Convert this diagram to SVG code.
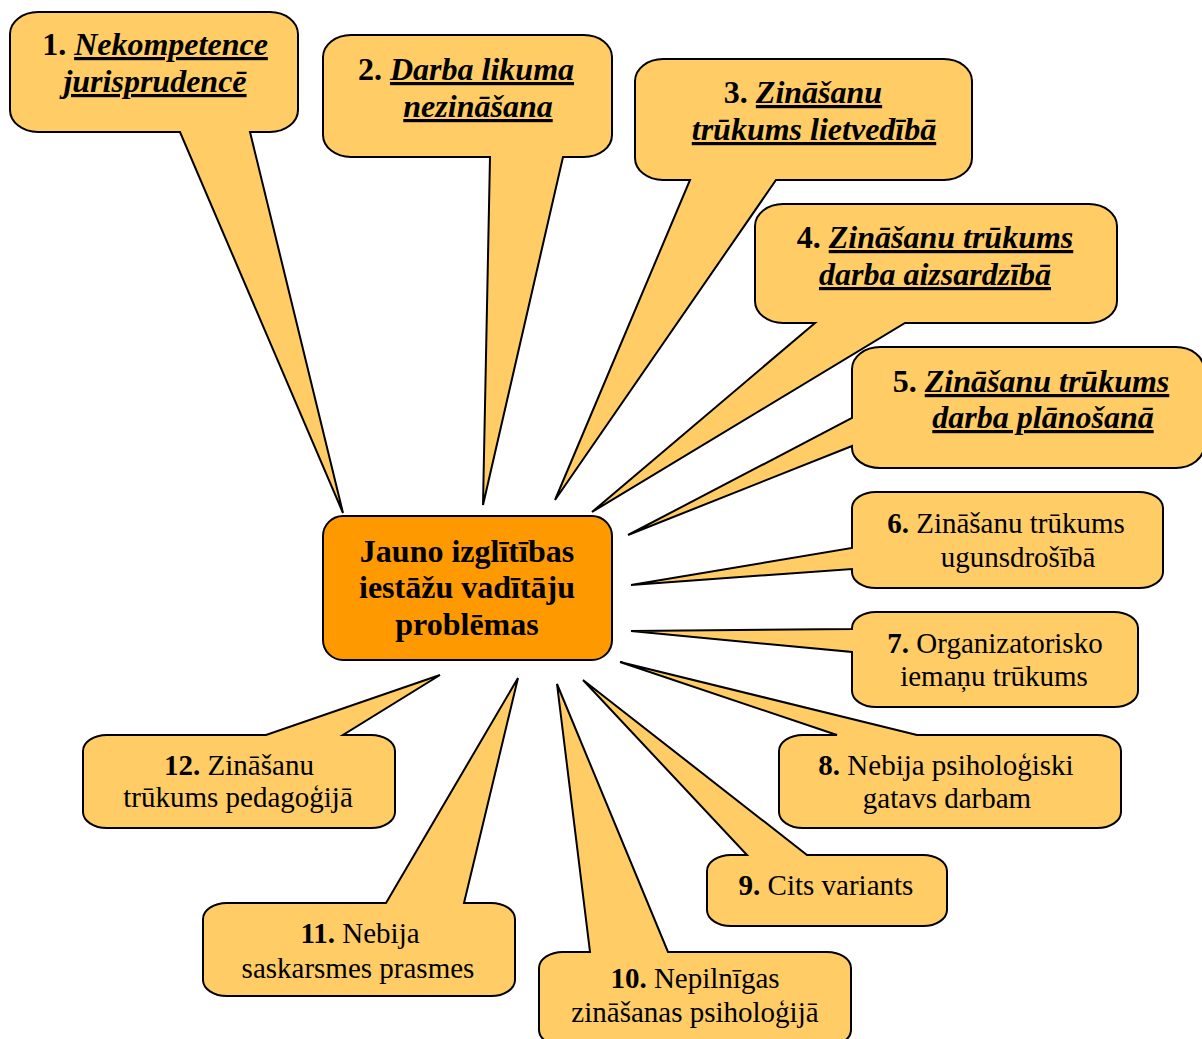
<svg xmlns="http://www.w3.org/2000/svg" width="1202" height="1039" viewBox="0 0 1202 1039">
<style>
.c{fill:#FFCC66;stroke:#000;stroke-width:2;stroke-linejoin:miter}
.m{fill:#FF9900;stroke:#000;stroke-width:2}
text{font-family:"Liberation Serif","Times New Roman",serif;fill:#000;text-anchor:middle}
.bi{font-size:32px;font-weight:bold}
.it{font-style:italic;text-decoration:underline}
.p{font-size:29px}
.b{font-weight:bold}
.ctr{font-size:32px;font-weight:bold}
</style>
<rect width="1202" height="1039" fill="#fff"/>
<g id="callout-shapes">
<g id="n1"><path class="c" d="M39,12 H270 A28 22 0 0 1 298,34 V110 A28 22 0 0 1 270,132 H250 L343,513 L180,132 H38 A28 22 0 0 1 10,110 V34 A28 22 0 0 1 38,12 Z"/>
<text class="bi" x="155" y="55">1. <tspan class="it">Nekompetence</tspan></text>
<text class="bi" x="155" y="92"><tspan class="it">jurisprudencē</tspan></text></g>
<g id="n2"><path class="c" d="M351,35 H584 A28 22 0 0 1 612,57 V135 A28 22 0 0 1 584,157 H563 L483,505 L490,157 H351 A28 22 0 0 1 323,135 V57 A28 22 0 0 1 351,35 Z"/>
<text class="bi" x="466" y="80">2. <tspan class="it">Darba likuma</tspan></text>
<text class="bi" x="478" y="117"><tspan class="it">nezināšana</tspan></text></g>
<g id="n3"><path class="c" d="M663,59 H944 A28 22 0 0 1 972,81 V158 A28 22 0 0 1 944,180 H776 L555,500 L690,180 H663 A28 22 0 0 1 635,158 V81 A28 22 0 0 1 663,59 Z"/>
<text class="bi" x="803" y="103">3. <tspan class="it">Zināšanu</tspan></text>
<text class="bi" x="814" y="140"><tspan class="it">trūkums lietvedībā</tspan></text></g>
<g id="n4"><path class="c" d="M783,204 H1089 A28 22 0 0 1 1117,226 V301 A28 22 0 0 1 1089,323 H905 L592,512 L815,323 H783 A28 22 0 0 1 755,301 V226 A28 22 0 0 1 783,204 Z"/>
<text class="bi" x="935" y="248">4. <tspan class="it">Zināšanu trūkums</tspan></text>
<text class="bi" x="935" y="285"><tspan class="it">darba aizsardzībā</tspan></text></g>
<g id="n5"><path class="c" d="M880,347 H1176 A28 22 0 0 1 1204,369 V446 A28 22 0 0 1 1176,468 H880 A28 20 0 0 1 852,448 V446 L628,535 L852,418 V369 A28 22 0 0 1 880,347 Z"/>
<text class="bi" x="1031" y="392">5. <tspan class="it">Zināšanu trūkums</tspan></text>
<text class="bi" x="1043" y="428"><tspan class="it">darba plānošanā</tspan></text></g>
<g id="n6"><path class="c" d="M876,492 H1139 A24 16 0 0 1 1163,508 V572 A24 16 0 0 1 1139,588 H876 A24 16 0 0 1 852,572 V569 L631,585 L852,548 V508 A24 16 0 0 1 876,492 Z"/>
<text class="p" x="1006" y="533"><tspan class="b">6.</tspan> Zināšanu trūkums</text>
<text class="p" x="1018" y="567">ugunsdrošībā</text></g>
<g id="n7"><path class="c" d="M876,612 H1114 A24 16 0 0 1 1138,628 V691 A24 16 0 0 1 1114,707 H876 A24 16 0 0 1 852,691 V652 L631,631 L852,629 V628 A24 16 0 0 1 876,612 Z"/>
<text class="p" x="995" y="653"><tspan class="b">7.</tspan> Organizatorisko</text>
<text class="p" x="994" y="686">iemaņu trūkums</text></g>
<g id="n8"><path class="c" d="M803,735 H837 L620,662 L917,735 H1097 A24 16 0 0 1 1121,751 V812 A24 16 0 0 1 1097,828 H803 A24 16 0 0 1 779,812 V751 A24 16 0 0 1 803,735 Z"/>
<text class="p" x="946" y="775"><tspan class="b">8.</tspan> Nebija psiholoģiski</text>
<text class="p" x="947" y="808">gatavs darbam</text></g>
<g id="n9"><path class="c" d="M731,855 H747 L583,680 L807,855 H923 A24 16 0 0 1 947,871 V910 A24 16 0 0 1 923,926 H731 A24 16 0 0 1 707,910 V871 A24 16 0 0 1 731,855 Z"/>
<text class="p" x="826" y="895"><tspan class="b">9.</tspan> Cits variants</text></g>
<g id="n10"><path class="c" d="M563,952 H590 L557,684 L668,952 H827 A24 16 0 0 1 851,968 V1030 A24 16 0 0 1 827,1046 H563 A24 16 0 0 1 539,1030 V968 A24 16 0 0 1 563,952 Z"/>
<text class="p" x="695" y="988"><tspan class="b">10.</tspan> Nepilnīgas</text>
<text class="p" x="695" y="1022">zināšanas psiholoģijā</text></g>
<g id="n11"><path class="c" d="M227,903 H386 L518,678 L464,903 H491 A24 16 0 0 1 515,919 V980 A24 16 0 0 1 491,996 H227 A24 16 0 0 1 203,980 V919 A24 16 0 0 1 227,903 Z"/>
<text class="p" x="360" y="943"><tspan class="b">11.</tspan> Nebija</text>
<text class="p" x="358" y="978">saskarsmes prasmes</text></g>
<g id="n12"><path class="c" d="M107,735 H266 L440,675 L343,735 H371 A24 16 0 0 1 395,751 V812 A24 16 0 0 1 371,828 H107 A24 16 0 0 1 83,812 V751 A24 16 0 0 1 107,735 Z"/>
<text class="p" x="239" y="775"><tspan class="b">12.</tspan> Zināšanu</text>
<text class="p" x="238" y="807">trūkums pedagoģijā</text></g>
</g>
<g id="center">
<rect class="m" x="323" y="516" width="289" height="144" rx="20" ry="20"/>
<text class="ctr" x="467" y="562">Jauno izglītības</text>
<text class="ctr" x="467" y="598">iestāžu vadītāju</text>
<text class="ctr" x="467" y="635">problēmas</text>
</g>
<g id="connectors"></g>
</svg>
